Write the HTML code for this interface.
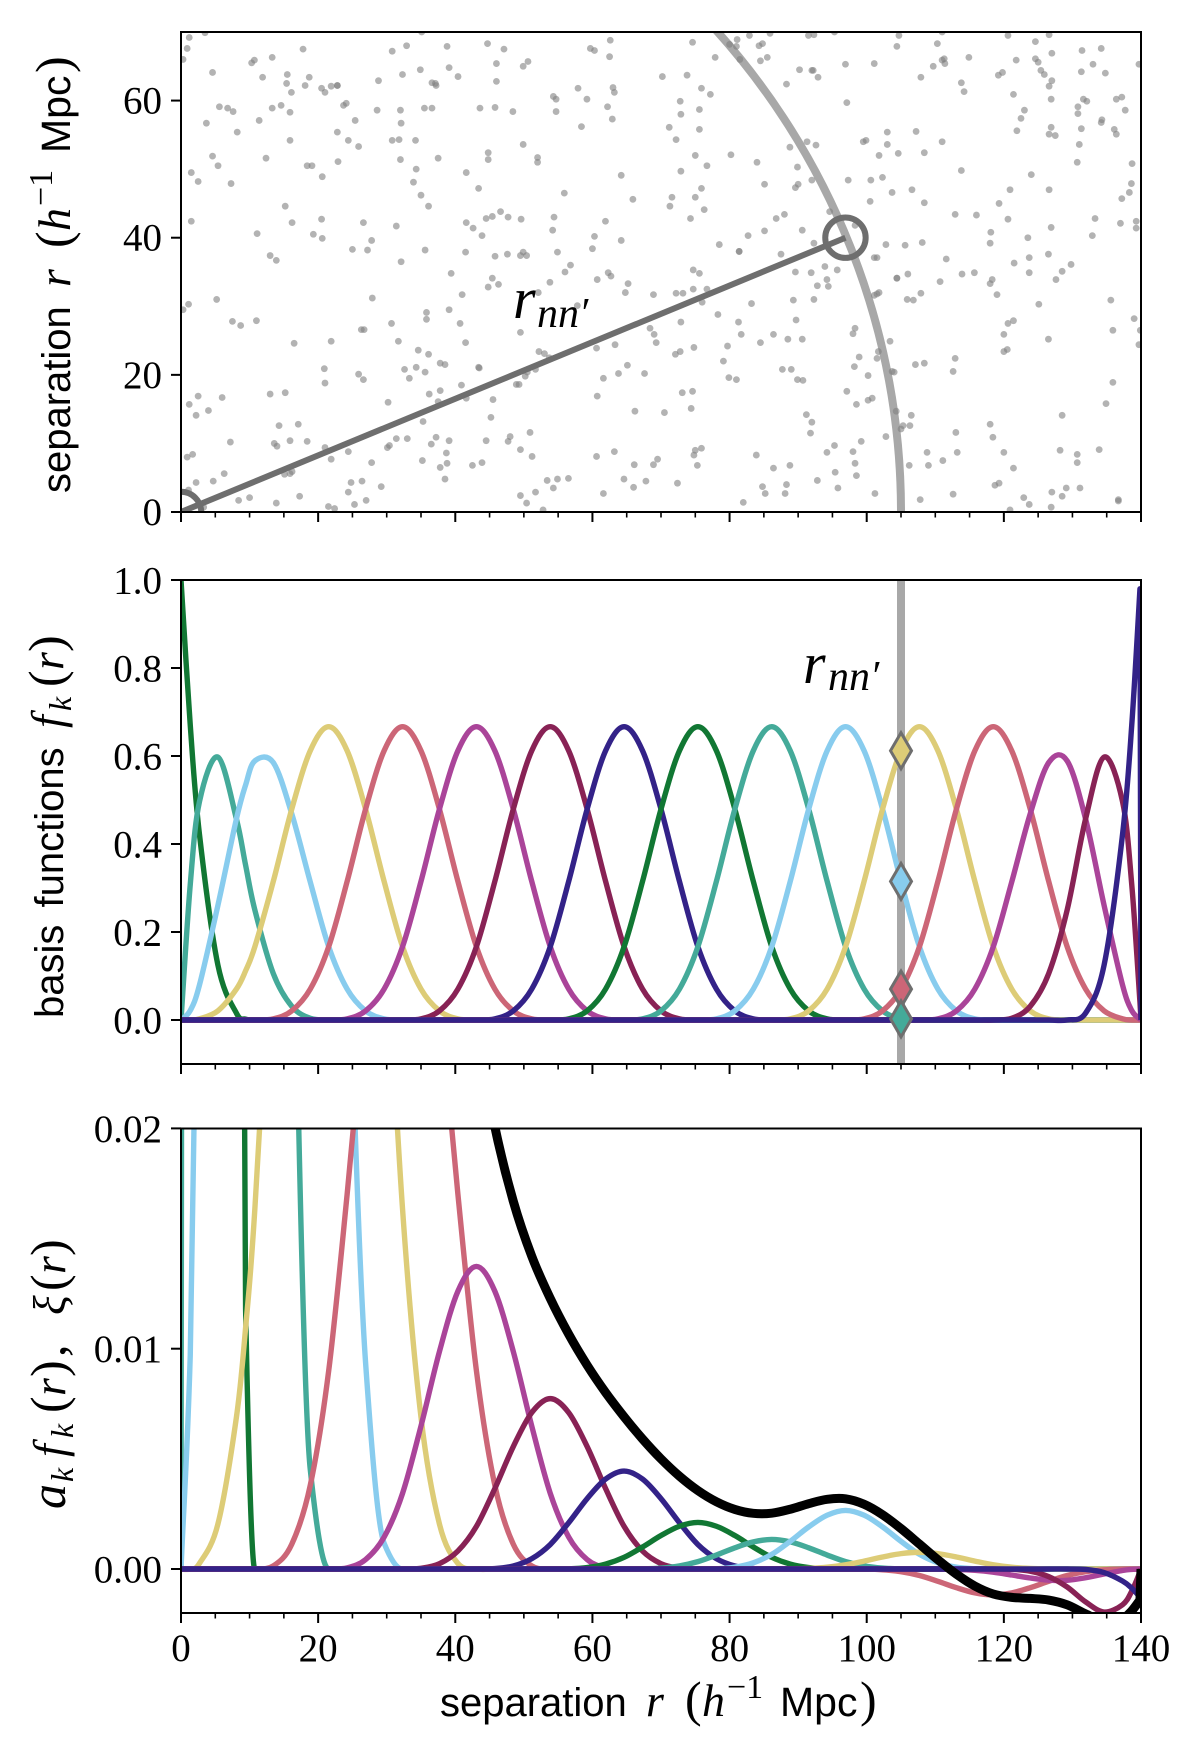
<!DOCTYPE html>
<html lang="en">
<head>
<meta charset="utf-8">
<title>Basis functions and correlation function</title>
<style>
  html, body { margin: 0; padding: 0; background: #fff; }
  svg { display: block; }
  .tick { font-family: "Liberation Serif", serif; font-size: 39px; fill: #000; }
  .sans { font-family: "Liberation Sans", sans-serif; font-size: 40px; fill: #000; }
  .sans-unit { font-family: "Liberation Sans", sans-serif; font-size: 41px; fill: #000; }
  .math { font-family: "Liberation Serif", serif; font-style: italic; font-size: 46px; fill: #000; }
  .paren { font-family: "Liberation Serif", serif; font-size: 50px; fill: #000; }
  .sup { font-family: "Liberation Serif", serif; font-size: 34px; fill: #000; }
  .sub { font-family: "Liberation Serif", serif; font-style: italic; font-size: 32px; fill: #000; }
</style>
</head>
<body>
<svg id="chart" xmlns="http://www.w3.org/2000/svg" width="1200" height="1760" viewBox="0 0 1200 1760">
  <defs>
    <clipPath id="clip-top"><rect x="181" y="32" width="960" height="480"/></clipPath>
    <clipPath id="clip-mid"><rect x="181" y="580" width="960" height="484"/></clipPath>
    <clipPath id="clip-bot"><rect x="181" y="1128.5" width="960" height="484.5"/></clipPath>
  </defs>
  <rect x="0" y="0" width="1200" height="1760" fill="#fff"/>
  <g id="panel-top"></g>
  <g id="panel-mid"></g>
  <g id="panel-bot"></g>

  <text class="math" style="font-size:58px" x="513" y="318">r</text>
  <text class="sub" style="font-size:42px" x="537" y="327">nn′</text>
  <text class="math" style="font-size:58px" x="803" y="683">r</text>
  <text class="sub" style="font-size:42px" x="828" y="690">nn′</text>

  <g transform="translate(70,493) rotate(-90)">
    <text class="sans" x="0" y="0">separation</text>
    <text class="math" x="206" y="0">r</text>
    <text class="paren" x="245" y="0">(</text>
    <text class="math" x="262" y="0">h</text>
    <text class="sup" x="287" y="-18">−1</text>
    <text class="sans-unit" x="340" y="0">Mpc</text>
    <text class="paren" x="420" y="0">)</text>
  </g>
  <g transform="translate(63,1018) rotate(-90)">
    <text class="sans" style="word-spacing:6px" x="0" y="0">basis functions</text>
    <text class="math" x="290" y="0">f</text>
    <text class="sub" x="307" y="8">k</text>
    <text class="paren" x="331" y="0">(</text>
    <text class="math" x="348" y="0">r</text>
    <text class="paren" x="366" y="0">)</text>
  </g>
  <g transform="translate(65,1509) rotate(-90)">
    <text class="math" style="font-size:50px" x="0" y="0">a</text>
    <text class="sub" x="27" y="8">k</text>
    <text class="math" x="52" y="0">f</text>
    <text class="sub" x="71" y="8">k</text>
    <text class="paren" x="96" y="0">(</text>
    <text class="math" x="113" y="0">r</text>
    <text class="paren" x="132" y="0">)</text>
    <text class="paren" x="152" y="0">,</text>
    <text class="math" x="194" y="0">ξ</text>
    <text class="paren" x="218" y="0">(</text>
    <text class="math" x="235" y="0">r</text>
    <text class="paren" x="253" y="0">)</text>
  </g>
  <g transform="translate(440,1716)">
    <text class="sans" x="0" y="0">separation</text>
    <text class="math" x="206" y="0">r</text>
    <text class="paren" x="245" y="0">(</text>
    <text class="math" x="262" y="0">h</text>
    <text class="sup" x="287" y="-18">−1</text>
    <text class="sans-unit" x="340" y="0">Mpc</text>
    <text class="paren" x="420" y="0">)</text>
  </g>
</svg>
<script>
const xMajorTicks = [0, 20, 40, 60, 80, 100, 120, 140];
const xMinorTicks = [5, 10, 15, 25, 30, 35, 45, 50, 55, 65, 70, 75, 85, 90, 95, 105, 110, 115, 125, 130, 135];
const topYTicks = [0, 20, 40, 60];
const topYLabels = ["0", "20", "40", "60"];
const midYTicks = [0, 0.2, 0.4, 0.6, 0.8, 1];
const midYLabels = ["0.0", "0.2", "0.4", "0.6", "0.8", "1.0"];
const botYTicks = [0, 0.01, 0.02];
const botYLabels = ["0.00", "0.01", "0.02"];

const arcRadius = 105;
const pairEnd = [96.9, 40];
const galaxies = [
[1.2,69.2],[3.5,69.9],[.9,67.6],[.3,66],[10.3,65.5],[10.7,65.9],[13.3,66.3],[17.8,67.5],[4.6,64.1],[11.9,63.4],[15.5,63.8],[18.7,63.4],[15.4,62.5],[18.1,62.2],[16.1,61.2],[20.5,61.8],[21,61.2],[21.9,62.1],[22.8,62.2],[22.8,62.2],[28.8,62.9],[32.3,63.8],[34.9,64.5],[30.8,67.2],[32.9,68],[38.8,67.9],[39.1,64.8],[40.4,63.5],[44.7,68.3],[47.1,67.5],[46,65.4],[46,62.8],[36.6,62.6],[37.1,62.5],[37.2,62.2],[35.1,70],
[5.6,59.1],[6.8,58.9],[7.6,58.4],[13.3,58.9],[14.6,59.3],[15.9,58.3],[23.7,59.3],[24.1,59.6],[28.6,58.6],[32,58.6],[35.5,58.9],[36.6,58.9],[43.6,58.9],[45.8,59],[3.7,56.7],[11.4,57.1],[8.2,55.4],[25.4,57.1],[32.1,56.7],[22.8,55.4],[15.9,54.2],[24.4,54.2],[25.9,53.3],[30.8,54.2],[31.8,54.3],[34.2,54.2],[44.8,52.4],[44.8,51.4],[4.6,51.9],[5.4,50.5],[12.4,51.6],[18.4,50.5],[19.1,50.5],[22.9,51.1],[32,51.4],[37.5,51.6],[34.3,50],[41.6,49.5],[1.5,49.5],[2.5,48.2],[7.3,47.9],[20.6,48.9],[33.9,48.1],[43.4,47.2],[35,46.2],[15.2,44.6],[36.1,44.6],
[1.5,42.4],[16.2,42.2],[20.5,42.7],[26.6,42.2],[31.4,41.7],[41.6,42.2],[42.6,41.4],[44.5,42.8],[45.4,43.1],[46.6,43.8],[47.7,43],[43.9,40.3],[11.1,40.6],[19.3,40.5],[20.6,39.9],[27.8,39.6],[25,38.3],[27.2,38.2],[35.6,38.2],[41.5,37.9],[45.8,37.3],[47.6,37.6],[13,37.4],[13.9,36.7],[32.1,36.5],
[39.4,34.8],[45.4,34.1],[46.3,33.2],[44.8,32.8],[41,31.7],[1.1,30.3],[.3,29.5],[5.2,31],[27.9,31.2],[35.8,29.1],[35.8,28.1],[39.1,29.5],[40.7,27.5],[7.5,27.8],[8.7,27.2],[11,27.9],[30.7,27.5],[26.3,26.6],[26.7,26.6],[16.5,24.6],[21.9,24.9],[31.7,24.9],[41.5,24.7],[34.6,23.6],[36.1,23],[20.9,20.9],[25.9,20.1],[26.6,19.3],[32.6,20.8],[33.3,19.5],[34.3,21.1],[35.6,20.4],[37.8,21.7],[38.5,21.5],[43.4,21.1],[43.5,21],[21,18.8],[40.9,18.5],[37.8,17.7],[36.2,17.2],[13,17.2],[15.2,17.4],[2.5,16.9],[6,16.7],[1.2,15.7],[4,14.8],[2.2,14.1],[30.2,16],[37.5,16.1],[41.6,16.6],[45.5,16.4],[35.3,13.2],[45.2,13.8],[14.3,12.6],[17.1,12.8],[7.2,10.2],[13.6,10],[14,9.6],[15.9,10.4],[18.4,10.3],[21,9.4],[30.1,9.4],[30.4,9.7],[31.4,10.7],[33,10.7],[37.2,10.9],[36.5,9.9],[39.1,10.4],[44.5,10.4],[47.7,10.3],[48,11],[24.4,8.8],[38.7,8.6],[1.7,8.4],[.9,8],[21.9,7.7],[27.8,7.2],[35.2,7.5],[37.8,6.5],[38.8,7.1],[42.5,6.8],[43.9,7.2],[6.3,5.6],[15.1,5.5],[15.9,5.6],[16.2,5.9],[2.2,4.3],[4.7,4.5],[24.8,4.3],[26.4,4.5],[29.2,3.7],[38.5,4.8],[24.4,2.9],[8.4,1.7],[10,2.1],[17.3,2.3],[27,1.7],[13.9,1.3],[25.3,1.1],[21.5,.8],[22.4,.5],[3.3,.7],[1.1,3.2],
[62.6,68.8],[59.7,67.6],[60.3,67.3],[62.5,66.4],[74.6,68.5],[50.6,65.7],[49.9,65],[70.2,63.5],[73.8,63.7],[77.9,66.3],[80,68.2],[81,67.9],[81.1,68.9],[82.9,69.5],[85.9,69.8],[84.3,68],[84.8,68.3],[84.5,65.8],[85.5,66.3],[81.5,66],[91.5,69.5],[92.3,69.6],[95.3,70],[90.2,64.5],[92,64.4],[92.2,64.4],[92.9,63.4],[88.3,62.4],[57.9,61.8],[63,61.9],[63.2,61.2],[54.3,60.6],[54.7,60.2],[59.2,60.2],[75.9,61.8],[77.2,60.9],[72.8,59.9],[62.2,59.1],[54.7,58.4],[48.4,58.4],[75.6,58.7],[72.9,58],[62.9,57.3],[58.4,56.2],[71.2,56.1],[75.6,55.8],[72.2,54.3],[49.9,53.6],[52,51.7],[52,51],[88.8,53.2],[91.3,54],[92.6,53.5],[80.2,52.1],[75,52],[84,51],[76.7,50.5],[89.9,50.3],[72.9,49.7],[64.2,49.1],[85.1,47.8],[92,48.4],[90,47.8],[89.6,47.3],[75.9,47.2],[55.9,46.5],[71.6,45.9],[75,45.9],[65.9,45.6],[71.3,44.6],[76.3,44.1],[54.4,43],[49.6,42.7],[74.3,42.8],[61.9,42.4],[88,43.4],[86.8,42.8],[54.2,41.1],[85.1,41],[82.7,40.3],[90.6,41.1],[94.6,43.8],[60.3,40.2],[64.2,39.6],[78.5,39],[92.3,39.2],[60,38.4],[54.9,37.9],[49.9,37.9],[49.5,37.4],[50.4,37.4],[81.4,38],[81.4,38],[87.5,37.6],[56.8,36],[93.9,35.8],
[56,35],[62.3,34.9],[62.7,34.4],[60.7,33.9],[53.8,33.5],[65.2,33.3],[52.1,32],[64.8,32],[68.9,31.7],[72.2,31.9],[73.2,31.9],[74.7,32.5],[76.7,32.5],[75.6,34.8],[74.7,35.3],[89.6,35],[91.9,34.9],[94.2,33.9],[92.8,33],[94.4,32.9],[95.7,35.3],[57.8,30.1],[89.3,30.9],[92.3,31],[76,30.6],[83.2,30.4],[78.3,28.8],[72.9,27.7],[81.3,27.7],[89.7,28],[49.5,26.2],[68.4,26.8],[69,25.9],[81.7,25.9],[86.4,25.9],[69.3,24.7],[84.5,24.7],[88.5,25.2],[90.6,25.2],[63.3,24.4],[60.6,23.9],[79.7,24.2],[74.8,24],[72.8,23.4],[72.1,23],[52.2,23.4],[53,23.1],[53.7,22.5],[79.1,22],[65.1,21.4],[51.7,20.8],[50.5,20.4],[50.2,19.8],[63.8,20.2],[67.6,20.2],[61.6,19.5],[87.7,20.8],[89,20.8],[79.9,19.6],[81,19.3],[89.9,19.3],[90.7,19.2],[48.9,18.6],[49.3,18.6],[60.7,16.9],[73.1,17.4],[74.6,17.6],[66.2,14.7],[70.5,14.5],[74.4,15.1],[91.2,14.2],[92,13.1],[91.8,11.5],[50.9,11.6],[49.5,9.1],[51.2,8.1],[60.6,8.1],[63.2,8.8],[75,9],[75.9,9.3],[74.8,8.3],[83.9,8.3],[94.2,8.7],[95.3,9.7],[69.5,7.7],[68.9,6.9],[66.1,6.9],[75.3,6.8],[88.8,6.8],[86.4,6.4],[95.4,5.8],[53.4,4.6],[54.9,4.8],[56.5,4.9],[64.6,4.8],[67.8,4.5],[72.4,4.2],[54.3,3.5],[66,3.6],[84.8,3.7],[88.3,4],[92.8,4.6],[95.8,3.5],[49.5,2.4],[51.7,2.9],[61.6,2.7],[85.2,2.7],[88.1,2.7],[50.4,1.3],[82,1.4],[52.8,.3],
[104.7,69.5],[104.4,67.9],[110.3,68.3],[111,70],[120.6,69.5],[124.6,68.6],[126.6,69.6],[127,66.9],[131.4,67.3],[134.2,67.6],[96.9,65.3],[101.1,65.4],[114.9,66.3],[111.3,66.1],[111,65.9],[111.4,65.4],[109.7,65],[121.8,65.9],[124.6,66.1],[125,65.6],[125.4,64.4],[125.9,63.8],[127,62.9],[126.6,62.1],[119.8,64.1],[119.2,63.7],[131.3,64.2],[133,65.3],[134.8,64],[139.7,65.3],[107.9,63.4],[113.8,62.6],[114.2,61.3],[121.4,60.9],[97.1,59.7],[126.9,60.2],[131.6,60.2],[132.1,59.9],[136.4,60.2],[137.2,60.5],[130.8,59.1],[130.8,58.1],[137.7,58.6],[123,58.6],[122.5,57.4],[134.3,57.2],[134.2,56.8],[126.9,56.1],[121.9,55.6],[131.3,55.9],[136.1,55.8],[136.4,55.1],[126.6,55.1],[127.5,54.9],[103,55.4],[107.2,55.5],[99.9,54.2],[99.5,54],[111,54],[103,53.6],[131,53.6],[101.8,52],[104.6,52.3],[108.4,52.4],[130.7,51],[138.7,50.8],[113.8,49.8],[124,49.2],[97.3,48.4],[100.6,48.4],[102.3,48.8],[103.7,46.6],[106.6,47],[120.9,47],[126.6,47],[138.6,47.9],[138.3,46.6],[137.2,45.7],[100.5,45.3],[108.4,45.1],[119.3,45],[112.9,43.4],[116,43.3],[120.6,42.7],[133.3,42.8],[137,42.1],[139.3,42.4],[139.3,41.4],[98.3,41.8],[126.9,41.5],[118.1,40.8],[132.9,40.3],[123.5,40],[102.8,39],[105.6,38.9],[108.1,39.3],[118,39.2],[126.5,37.6],[101.1,37.1],[101.5,37.1],[111.6,36.9],[123.7,37.1],[121.5,36.3],[129.8,36.1],
[104.4,34.1],[104.4,34.1],[106,34.7],[110.7,33.6],[113.9,34.7],[115.7,34.9],[123.7,34.9],[128.5,35.1],[127.6,33.9],[118.3,33.9],[118,33.3],[119,31.7],[107.9,31.9],[101.8,32],[101.1,31.6],[101.5,31.8],[105.9,31],[106.8,30.9],[125.1,30.3],[135.6,30.9],[139,28.2],[121.4,27.9],[120.6,27.5],[120,25.9],[135.9,26.5],[139.9,26.5],[98.3,26.8],[98,26],[103.4,24.9],[126.5,25.2],[101.7,23.4],[101.5,22.4],[98.9,22.6],[98.2,21.2],[120.5,23.7],[120,23.4],[139.7,24.4],[112.9,22.4],[112.6,20.5],[107.1,21.5],[108.4,21.7],[103.7,20.5],[104,20.4],[100.2,19.9],[97.1,17.6],[100.8,16.6],[100.2,16.3],[98.5,15.7],[135.9,18.9],[134.9,15.8],[104.3,14.7],[106.5,14.1],[128.5,14.1],[105.3,12.6],[105,12.1],[106.3,12.6],[118,12.8],[113,11.6],[118.4,10.9],[102.8,11],[99.2,10.3],[98,8.8],[108.8,8.7],[113.2,8.7],[120,8.7],[128.2,9],[130.7,8.4],[133.9,9.1],[98.3,7.1],[130.7,7.2],[98.5,5.3],[106.2,6.8],[109,6.8],[111.1,7.5],[121.4,6.4],[119.3,4.2],[118.7,3.9],[101.2,2.7],[112.6,2.6],[107.8,1.8],[122.9,2.1],[127,2.9],[129.1,3.5],[131.1,3.5],[128.5,2.3],[123.7,1.1],[126.9,.7],[136.7,1.8],[136.7,1.6],[120.9,.3]
];

const radiusGrid = [0,1.35,2.69,5.38,8.08,9.42,10.77,13.46,16.15,18.85,21.54,24.23,26.92,29.62,32.31,35,37.69,40.38,43.08,45.77,48.46,51.15,53.85,56.54,59.23,61.92,64.62,67.31,70,72.69,75.38,78.08,80.77,83.46,86.15,88.85,91.54,94.23,96.92,99.62,102.31,105,107.69,110.38,113.08,115.77,118.46,121.15,123.85,126.54,129.23,131.92,134.62,137.31,138.65,139.85,140];

const basisK0 = [1,.6699,.4219,.125,.0156,.002,0,0,0,0,0,0,0,0,0,0,0,0,0,0,0,0,0,0,0,0,0,0,0,0,0,0,0,0,0,0,0,0,0,0,0,0,0,0,0,0,0,0,0,0,0,0,0,0,0,0,0];
const basisK1 = [0,.308,.4961,.5975,.457,.352,.25,.1055,.0313,.0039,0,0,0,0,0,0,0,0,0,0,0,0,0,0,0,0,0,0,0,0,0,0,0,0,0,0,0,0,0,0,0,0,0,0,0,0,0,0,0,0,0,0,0,0,0,0,0];
const basisK2 = [0,.0216,.0794,.2604,.457,.534,.589,.585,.4688,.3138,.1667,.0703,.0208,.0026,0,0,0,0,0,0,0,0,0,0,0,0,0,0,0,0,0,0,0,0,0,0,0,0,0,0,0,0,0,0,0,0,0,0,0,0,0,0,0,0,0,0,0];
const basisK3 = [0,0,.0026,.0208,.0703,.1117,.1667,.3151,.4792,.612,.6667,.612,.4792,.3151,.1667,.0703,.0208,.0026,0,0,0,0,0,0,0,0,0,0,0,0,0,0,0,0,0,0,0,0,0,0,0,0,0,0,0,0,0,0,0,0,0,0,0,0,0,0,0];
const basisK4 = [0,0,0,0,0,0,0,.0026,.0208,.0703,.1667,.3151,.4792,.612,.6667,.612,.4792,.3151,.1667,.0703,.0208,.0026,0,0,0,0,0,0,0,0,0,0,0,0,0,0,0,0,0,0,0,0,0,0,0,0,0,0,0,0,0,0,0,0,0,0,0];
const basisK5 = [0,0,0,0,0,0,0,0,0,0,0,.0026,.0208,.0703,.1667,.3151,.4792,.612,.6667,.612,.4792,.3151,.1667,.0703,.0208,.0026,0,0,0,0,0,0,0,0,0,0,0,0,0,0,0,0,0,0,0,0,0,0,0,0,0,0,0,0,0,0,0];
const basisK6 = [0,0,0,0,0,0,0,0,0,0,0,0,0,0,0,.0026,.0208,.0703,.1667,.3151,.4792,.612,.6667,.612,.4792,.3151,.1667,.0703,.0208,.0026,0,0,0,0,0,0,0,0,0,0,0,0,0,0,0,0,0,0,0,0,0,0,0,0,0,0,0];
const basisK7 = [0,0,0,0,0,0,0,0,0,0,0,0,0,0,0,0,0,0,0,.0026,.0208,.0703,.1667,.3151,.4792,.612,.6667,.612,.4792,.3151,.1667,.0703,.0208,.0026,0,0,0,0,0,0,0,0,0,0,0,0,0,0,0,0,0,0,0,0,0,0,0];
const basisK8 = [0,0,0,0,0,0,0,0,0,0,0,0,0,0,0,0,0,0,0,0,0,0,0,.0026,.0208,.0703,.1667,.3151,.4792,.612,.6667,.612,.4792,.3151,.1667,.0703,.0208,.0026,0,0,0,0,0,0,0,0,0,0,0,0,0,0,0,0,0,0,0];
const basisK9 = [0,0,0,0,0,0,0,0,0,0,0,0,0,0,0,0,0,0,0,0,0,0,0,0,0,0,0,.0026,.0208,.0703,.1667,.3151,.4792,.612,.6667,.612,.4792,.3151,.1667,.0703,.0208,.0026,0,0,0,0,0,0,0,0,0,0,0,0,0,0,0];
const basisK10 = [0,0,0,0,0,0,0,0,0,0,0,0,0,0,0,0,0,0,0,0,0,0,0,0,0,0,0,0,0,0,0,.0026,.0208,.0703,.1667,.3151,.4792,.612,.6667,.612,.4792,.3151,.1667,.0703,.0208,.0026,0,0,0,0,0,0,0,0,0,0,0];
const basisK11 = [0,0,0,0,0,0,0,0,0,0,0,0,0,0,0,0,0,0,0,0,0,0,0,0,0,0,0,0,0,0,0,0,0,0,0,.0026,.0208,.0703,.1667,.3151,.4792,.612,.6667,.612,.4792,.3151,.1667,.0703,.0208,.0026,0,0,0,0,0,0,0];
const basisK12 = [0,0,0,0,0,0,0,0,0,0,0,0,0,0,0,0,0,0,0,0,0,0,0,0,0,0,0,0,0,0,0,0,0,0,0,0,0,0,0,.0026,.0208,.0703,.1667,.3151,.4792,.612,.6667,.612,.4792,.3151,.1667,.0703,.0208,.0026,0,0,0];
const basisK13 = [0,0,0,0,0,0,0,0,0,0,0,0,0,0,0,0,0,0,0,0,0,0,0,0,0,0,0,0,0,0,0,0,0,0,0,0,0,0,0,0,0,0,0,.0026,.0208,.0703,.1667,.3138,.4688,.585,.589,.457,.2604,.0794,.0216,.002,0];
const basisK14 = [0,0,0,0,0,0,0,0,0,0,0,0,0,0,0,0,0,0,0,0,0,0,0,0,0,0,0,0,0,0,0,0,0,0,0,0,0,0,0,0,0,0,0,0,0,0,0,.0039,.0313,.1055,.25,.457,.5975,.4961,.308,.04,0];
const basisK15 = [0,0,0,0,0,0,0,0,0,0,0,0,0,0,0,0,0,0,0,0,0,0,0,0,0,0,0,0,0,0,0,0,0,0,0,0,0,0,0,0,0,0,0,0,0,0,0,0,0,0,0,.0156,.125,.4219,.6699,.98,0];
const basisSeries = [basisK0, basisK1, basisK2, basisK3, basisK4, basisK5, basisK6, basisK7, basisK8, basisK9, basisK10, basisK11, basisK12, basisK13, basisK14, basisK15];
const amplitudes = [5.9, 1.16, .45, .098, .054, .0206, .0116, .00667, .00317, .00201, .00399, .00114, -.00177, -.00087, -.00327, -.0013];

const seriesColors = ["#117733", "#44AA99", "#88CCEE", "#DDCC77", "#CC6677", "#AA4499", "#882255", "#332288", "#117733", "#44AA99", "#88CCEE", "#DDCC77", "#CC6677", "#AA4499", "#882255", "#332288"];
const markerRadius = 105;
const markerSeries = [12, 11, 10, 9];

const NS = "http://www.w3.org/2000/svg";
const XL = 181, XR = 1141;
function sx(r) { return XL + (XR - XL) * r / 140; }
function topY(v) { return 512 - 480 * v / 70; }
function midY(v) { return 1020 - 440 * v; }
function botY(v) { return 1569 - 22030 * v; }

function make(parent, tag, attrs) {
  const el = document.createElementNS(NS, tag);
  for (const key in attrs) el.setAttribute(key, attrs[key]);
  parent.appendChild(el);
  return el;
}

/* Catmull-Rom through the samples; the final sample is a straight drop at r = 140. */
function smoothPath(xs, ys) {
  const n = xs.length;
  let d = "M" + sx(xs[0]).toFixed(2) + " " + ys[0].toFixed(2);
  for (let i = 0; i < n - 2; i++) {
    const i0 = Math.max(i - 1, 0), i3 = Math.min(i + 2, n - 2);
    const x1 = sx(xs[i]), x2 = sx(xs[i + 1]);
    const c1x = x1 + (x2 - sx(xs[i0])) / 6, c1y = ys[i] + (ys[i + 1] - ys[i0]) / 6;
    const c2x = x2 - (sx(xs[i3]) - x1) / 6, c2y = ys[i + 1] - (ys[i3] - ys[i]) / 6;
    d += "C" + c1x.toFixed(2) + " " + c1y.toFixed(2) + " " + c2x.toFixed(2) + " " + c2y.toFixed(2) + " " + x2.toFixed(2) + " " + ys[i + 1].toFixed(2);
  }
  d += "L" + sx(xs[n - 1]).toFixed(2) + " " + ys[n - 1].toFixed(2);
  return d;
}

/* Monotone cubic (no overshoot), used where steep tails are scaled by large coefficients. */
function monotonePath(xs, ys) {
  const n = xs.length - 1;
  const px = xs.slice(0, n).map(sx);
  const py = ys.slice(0, n);
  const slopes = [];
  for (let i = 0; i < n - 1; i++) slopes.push((py[i + 1] - py[i]) / (px[i + 1] - px[i]));
  const m = [slopes[0]];
  for (let i = 1; i < n - 1; i++) {
    const a = slopes[i - 1], b = slopes[i];
    if (a * b <= 0) { m.push(0); }
    else {
      const h0 = px[i] - px[i - 1], h1 = px[i + 1] - px[i];
      const w1 = 2 * h1 + h0, w2 = h1 + 2 * h0;
      m.push((w1 + w2) / (w1 / a + w2 / b));
    }
  }
  m.push(slopes[n - 2]);
  let d = "M" + px[0].toFixed(2) + " " + py[0].toFixed(2);
  for (let i = 0; i < n - 1; i++) {
    const h = (px[i + 1] - px[i]) / 3;
    d += "C" + (px[i] + h).toFixed(2) + " " + (py[i] + m[i] * h).toFixed(2) + " " + (px[i + 1] - h).toFixed(2) + " " + (py[i + 1] - m[i + 1] * h).toFixed(2) + " " + px[i + 1].toFixed(2) + " " + py[i + 1].toFixed(2);
  }
  d += "L" + sx(xs[n]).toFixed(2) + " " + ys[n].toFixed(2);
  return d;
}

function drawAxes(parent, top, bottom, yScale, yTicks, yLabels, showXLabels, labelDrop) {
  xMinorTicks.forEach(function (t) {
    const tick = make(parent, "line", { x1: sx(t), x2: sx(t), y1: bottom, y2: bottom + 5.5, stroke: "#000", "stroke-width": 1.6 });
    
    
  });
  xMajorTicks.forEach(function (t) {
    const tick = make(parent, "line", { x1: sx(t), x2: sx(t), y1: bottom, y2: bottom + 10, stroke: "#000", "stroke-width": 2 });
    
    
    if (showXLabels) {
      const label = make(parent, "text", { x: sx(t), y: 1661, "text-anchor": "middle", class: "tick" });
      label.textContent = String(t);
      
      
    }
  });
  yTicks.forEach(function (t, i) {
    const tick = make(parent, "line", { x1: XL - 10, x2: XL, y1: yScale(t), y2: yScale(t), stroke: "#000", "stroke-width": 2 });
    
    
    const label = make(parent, "text", { x: 162, y: yScale(t) + labelDrop, "text-anchor": "end", class: "tick" });
    label.textContent = yLabels[i];
    
    
  });
  const frame = make(parent, "rect", { x: XL, y: top, width: XR - XL, height: bottom - top, fill: "none", stroke: "#000", "stroke-width": 2 });
  
  
}

/* top panel */
const panelTop = document.getElementById("panel-top");
const topPlot = make(panelTop, "g", { "clip-path": "url(#clip-top)" });
const radiusArc = make(topPlot, "path", {
  d: "M" + sx(arcRadius) + " " + topY(0) + "A" + (sx(arcRadius) - sx(0)) + " " + (topY(0) - topY(arcRadius)) + " 0 0 0 " + sx(0) + " " + topY(arcRadius),
  fill: "none", stroke: "#a8a8a8", "stroke-width": 8
});


galaxies.forEach(function (g) {
  const dot = make(topPlot, "circle", { cx: sx(g[0]), cy: topY(g[1]), r: 3.4, fill: "#808080", "fill-opacity": .6 });
  
  
});
const pairLine = make(topPlot, "line", { x1: sx(0), y1: topY(0), x2: sx(pairEnd[0]), y2: topY(pairEnd[1]), stroke: "#6e6e6e", "stroke-width": 6 });


const originRing = make(topPlot, "circle", { cx: sx(0), cy: topY(0), r: 20.2, fill: "none", stroke: "#6e6e6e", "stroke-width": 6 });


const pairRing = make(topPlot, "circle", { cx: sx(pairEnd[0]), cy: topY(pairEnd[1]), r: 20.2, fill: "none", stroke: "#6e6e6e", "stroke-width": 6 });


drawAxes(panelTop, 32, 512, topY, topYTicks, topYLabels, false, 13);

/* middle panel */
const panelMid = document.getElementById("panel-mid");
const midPlot = make(panelMid, "g", { "clip-path": "url(#clip-mid)" });
const separationBar = make(midPlot, "line", { x1: sx(markerRadius), x2: sx(markerRadius), y1: 580, y2: 1065, stroke: "#a8a8a8", "stroke-width": 8 });


basisSeries.forEach(function (values, k) {
  const curve = make(midPlot, "path", { d: smoothPath(radiusGrid, values.map(midY)), fill: "none", stroke: seriesColors[k], "stroke-width": 5.4, "stroke-linejoin": "round" });
  
  
});
const markerIndex = radiusGrid.indexOf(markerRadius);
markerSeries.forEach(function (k) {
  const cx = sx(markerRadius), cy = midY(basisSeries[k][markerIndex]);
  const diamond = make(midPlot, "polygon", {
    points: cx + "," + (cy - 18) + " " + (cx + 10.5) + "," + cy + " " + cx + "," + (cy + 18) + " " + (cx - 10.5) + "," + cy,
    fill: seriesColors[k], stroke: "#6e6e6e", "stroke-width": 3
  });
  
  
});
drawAxes(panelMid, 580, 1064, midY, midYTicks, midYLabels, false, 13.5);

/* bottom panel */
const panelBot = document.getElementById("panel-bot");
const botPlot = make(panelBot, "g", { "clip-path": "url(#clip-bot)" });
const xiValues = radiusGrid.map(function (_, i) {
  return basisSeries.reduce(function (sum, values, k) { return sum + amplitudes[k] * values[i]; }, 0);
});
basisSeries.forEach(function (values, k) {
  const scaled = values.map(function (v) { return botY(amplitudes[k] * v); });
  const pathData = Math.abs(amplitudes[k]) > 0.2 ? monotonePath(radiusGrid, scaled) : smoothPath(radiusGrid, scaled);
  const curve = make(botPlot, "path", { d: pathData, fill: "none", stroke: seriesColors[k], "stroke-width": 5.4, "stroke-linejoin": "round" });
  
  
});
const xiCurve = make(botPlot, "path", { d: smoothPath(radiusGrid, xiValues.map(botY)), fill: "none", stroke: "#000", "stroke-width": 9, "stroke-linejoin": "round" });


drawAxes(panelBot, 1128.5, 1613, botY, botYTicks, botYLabels, true, 13.5);
</script>
</body>
</html>
